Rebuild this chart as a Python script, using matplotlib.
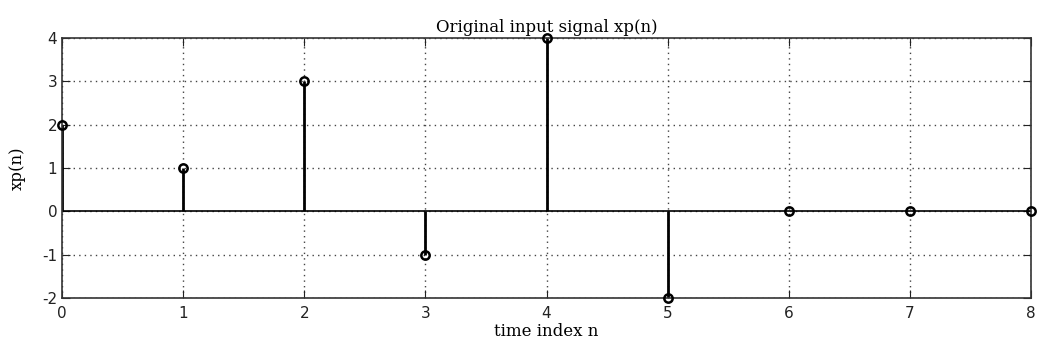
import matplotlib
matplotlib.use("Agg")
import matplotlib.pyplot as plt

plt.rcParams['axes.unicode_minus'] = False

n = [0, 1, 2, 3, 4, 5, 6, 7, 8]
xp = [2, 1, 3, -1, 4, -2, 0, 0, 0]

fig = plt.figure(figsize=(10.49, 3.56), dpi=100)
ax = fig.add_axes([62 / 1049, 1 - 298 / 356, (1031 - 62) / 1049, (298 - 38) / 356])

markers, stems, base = ax.stem(n, xp, linefmt='k-', markerfmt='ko', basefmt='k-')
plt.setp(stems, linewidth=2)
plt.setp(markers, markerfacecolor='none', markeredgecolor='black', markersize=6,
         markeredgewidth=1.8, clip_on=False, zorder=5)
plt.setp(base, linewidth=1.2, color='black')
base.set_xdata([0, 8])

ax.set_xlim(0, 8)
ax.set_ylim(-2, 4)
ax.set_xticks(n)
ax.set_yticks(range(-2, 5))
ax.grid(True, linestyle=(0, (1, 3)), color='#444444', linewidth=1)
ax.tick_params(direction='in', length=6, labelsize=11, colors='#222222', top=True, right=True)
ax.tick_params(axis='x', pad=6)
for s in ax.spines.values():
    s.set_color('#333333')
    s.set_linewidth(1.2)

ax.set_title('Original input signal xp(n)', fontfamily='serif', fontsize=12, pad=4)
ax.set_xlabel('time index n', fontfamily='serif', fontsize=12, labelpad=1)
ax.set_ylabel('xp(n)', fontfamily='serif', fontsize=12, labelpad=12)

fig.savefig('out.png', dpi=100)
